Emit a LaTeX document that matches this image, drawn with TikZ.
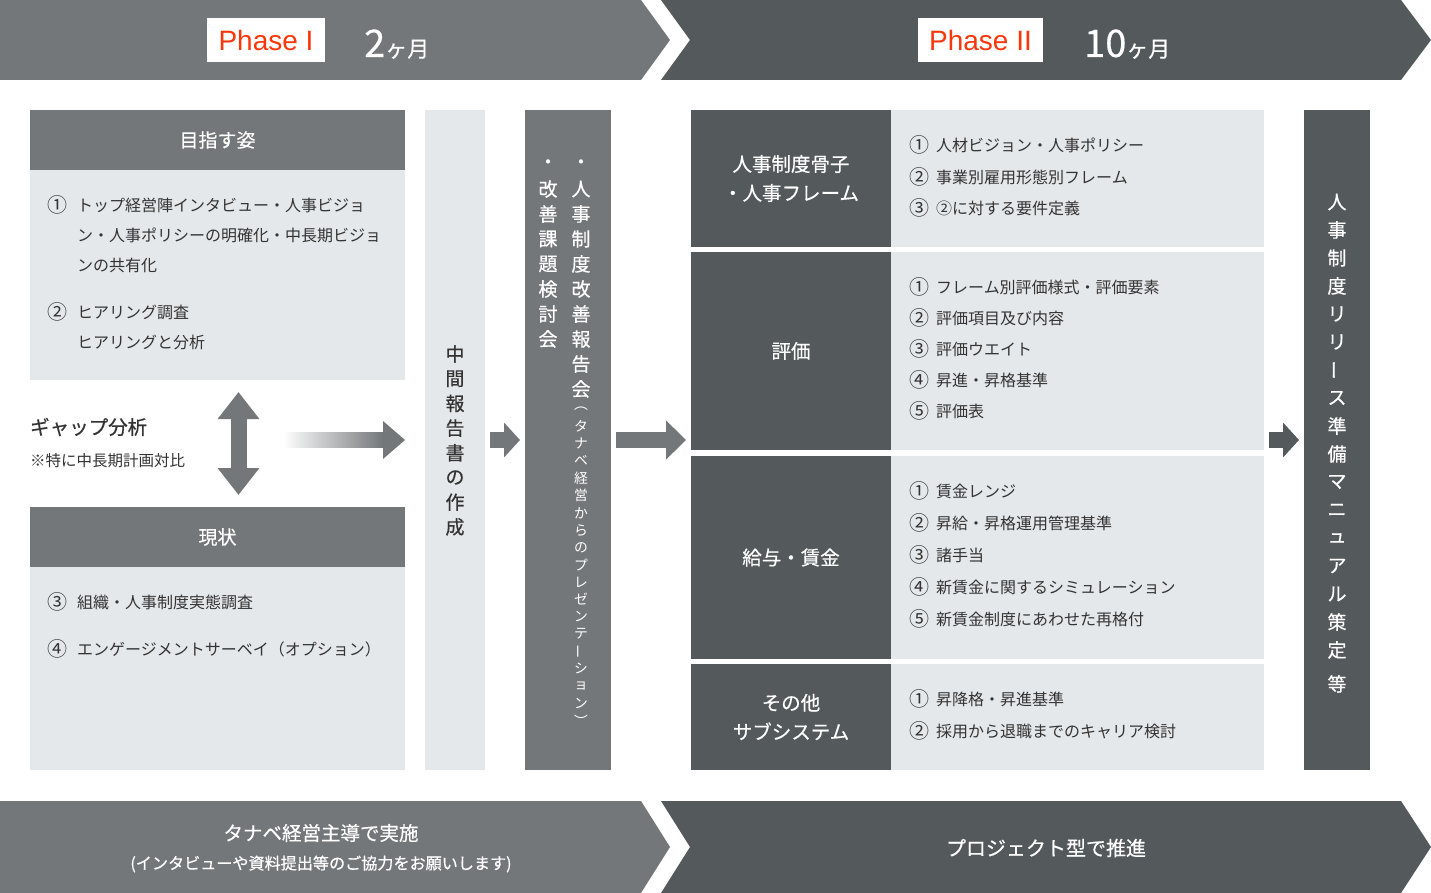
\documentclass[tikz,border=0pt]{standalone}
\usepackage{fontspec}
\setmainfont{Noto Sans CJK JP}
\newfontfamily\medfont[FakeBold=0.45]{Noto Sans CJK JP}
\newfontfamily\latinfont{Liberation Sans}
\usetikzlibrary{arrows.meta,calc}
\definecolor{midg}{RGB}{116,119,122}
\definecolor{darkg}{RGB}{84,89,92}
\definecolor{lightg}{RGB}{229,232,235}
\definecolor{txt}{RGB}{51,51,51}
\definecolor{phred}{RGB}{250,55,10}
\newcommand\myfs[2]{\fontsize{#1pt}{#2pt}\selectfont}
\tikzset{
  hdr/.style={fill=midg, text=white, inner sep=0pt, outer sep=0pt, anchor=north west, font=\medfont\myfs{19}{23}},
  body/.style={fill=lightg, inner sep=0pt, outer sep=0pt, anchor=north west},
  dk/.style={fill=darkg, text=white, inner sep=0pt, outer sep=0pt, anchor=north west, align=center, font=\medfont\myfs{19.5}{29}},
  lt/.style={fill=lightg, inner sep=0pt, outer sep=0pt, anchor=north west},
  num/.style={text=txt, font=\myfs{20}{20}, inner sep=0pt},
  item/.style={text=txt, font=\myfs{16}{16}, inner sep=0pt, anchor=west},
  vch/.style={inner sep=0pt, font=\medfont\myfs{19}{19}},
  vsm/.style={inner sep=0pt, font=\myfs{13.8}{14}, text=white},
  blk/.style={line width=16pt, -{Triangle[width=34pt,length=16pt]}},
  phasebox/.style={fill=white, inner sep=0pt, minimum height=44pt, font=\latinfont\myfs{28}{28}, text=phred},
  months/.style={inner sep=0pt, anchor=base west, text=white, font=\medfont},
  bantext/.style={inner sep=0pt, text=white}
}
\begin{document}
\begin{tikzpicture}[x=1pt,y=-1pt]
\useasboundingbox (0,0) rectangle (1431,893);
\fill[white] (0,0) rectangle (1431,893);

% ---- top banners
\fill[midg] (0,0) -- (641,0) -- (670,40) -- (641,80) -- (0,80) -- cycle;
\fill[darkg] (661,0) -- (1401,0) -- (1431,40) -- (1401,80) -- (661,80) -- (690,40) -- cycle;
\node[phasebox, minimum width=118pt] (p1) at (266,40) {Phase I};
\node[months] (m1) at (364,57) {\myfs{38}{38}2\myfs{22}{22}ヶ月};
\node[phasebox, minimum width=125pt] (p2) at (980.5,40) {Phase II};
\node[months] (m2) at (1084,57) {\myfs{38}{38}10\myfs{22}{22}ヶ月};

% ---- bottom banners
\fill[midg] (0,801) -- (641,801) -- (670,847) -- (641,893) -- (0,893) -- cycle;
\fill[darkg] (661,801) -- (1401,801) -- (1431,847) -- (1401,893) -- (661,893) -- (690,847) -- cycle;
\node[bantext, font=\medfont\myfs{19.5}{20}] (b1a) at (321,833) {タナベ経営主導で実施};
\node[bantext, font=\medfont\myfs{16.1}{17}] (b1b) at (321,864) {(インタビューや資料提出等のご協力をお願いします)};
\node[bantext, font=\medfont\myfs{20}{20}] (b2) at (1046,848) {プロジェクト型で推進};

% ---- left column
\node[hdr, minimum width=375pt, minimum height=60pt] (aimh) at (30,110) {目指す姿};
\node[body, minimum width=375pt, minimum height=210pt] (aimb) at (30,170) {};
\node[num] (n1) at (57,205) {①};
\node[item] (t1) at (77,205) {トップ経営陣インタビュー・人事ビジョ};
\node[item] (t1b) at (77,235) {ン・人事ポリシーの明確化・中長期ビジョ};
\node[item] (t1c) at (77,265) {ンの共有化};
\node[num] (n2) at (57,312) {②};
\node[item] (t2) at (77,312) {ヒアリング調査};
\node[item] (t2b) at (77,342) {ヒアリングと分析};

\node[inner sep=0pt, anchor=west, text=txt, font=\medfont\myfs{19.5}{20}] (gap) at (30,427) {ギャップ分析};
\node[inner sep=0pt, anchor=west, text=txt, font=\myfs{15.5}{16}] (gapn) at (30,461) {※特に中長期計画対比};

\node[hdr, minimum width=375pt, minimum height=60pt] (nowh) at (30,507) {現状};
\node[body, minimum width=375pt, minimum height=203pt] (nowb) at (30,567) {};
\node[num] (n3) at (57,602) {③};
\node[item] (t3) at (77,602) {組織・人事制度実態調査};
\node[num] (n4) at (57,649) {④};
\node[item] (t4) at (77,649) {エンゲージメントサーベイ（オプション）};

\draw[midg, line width=16pt, {Triangle[width=40pt,length=27pt]}-{Triangle[width=40pt,length=27pt]}]
  ([xshift=21pt,yshift=-12pt]aimb.south) -- ([xshift=21pt,yshift=12pt]nowh.north);

% ---- middle columns
\node[body, minimum width=60pt, minimum height=660pt] (midcol) at (425,110) {};
\foreach \ch [count=\i from 0] in {中,間,報,告,書,の,作,成}
  \node[vch, text=txt] (mc\i) at (455,354+24.7*\i) {\ch};

\node[body, fill=midg, minimum width=86pt, minimum height=660pt] (repcol) at (525,110) {};
\foreach \ch [count=\i from 0] in {・,人,事,制,度,改,善,報,告,会}
  \node[vch, text=white] (ra\i) at (581,164+25*\i) {\ch};
\foreach \ch [count=\i from 0] in {︵,タ,ナ,ベ,経,営,か,ら,の,プ,レ,ゼ,ン,テ,{\rotatebox{90}{ー}},シ,ョ,ン,︶}
  \node[vsm] (rs\i) at (581,409+17.3*\i) {\ch};
\foreach \ch [count=\i from 0] in {・,改,善,課,題,検,討,会}
  \node[vch, text=white] (rb\i) at (548,164+25*\i) {\ch};

% gradient arrow
\coordinate (gs) at (283,440);
\coordinate (ge) at (aimb.east |- midcol.west);
\shade[left color=white, right color=midg] ($(gs)+(0,-7.5)$) rectangle ($(ge)+(-22,7.5)$);
\fill[midg] ($(ge)+(-22,-19)$) -- (ge) -- ($(ge)+(-22,19)$) -- cycle;

% ---- right section
\node[dk, minimum width=200pt, minimum height=137pt] (d1) at (691,110) {人事制度骨子\\・人事フレーム};
\node[lt, minimum width=373pt, minimum height=137pt] (l1) at (891,110) {};
\node[dk, minimum width=200pt, minimum height=198pt] (d2) at (691,252) {評価};
\node[lt, minimum width=373pt, minimum height=198pt] (l2) at (891,252) {};
\node[dk, minimum width=200pt, minimum height=203pt] (d3) at (691,456) {給与・賃金};
\node[lt, minimum width=373pt, minimum height=203pt] (l3) at (891,456) {};
\node[dk, minimum width=200pt, minimum height=106pt] (d4) at (691,664) {その他\\サブシステム};
\node[lt, minimum width=373pt, minimum height=106pt] (l4) at (891,664) {};

\foreach \t/\y [count=\i] in {人材ビジョン・人事ポリシー/145, 事業別雇用形態別フレーム/177, ②に対する要件定義/208}{
  \node[num] (an\i) at (919,\y) {\ifcase\i\or ①\or ②\or ③\fi};
  \node[item] (at\i) at (936,\y) {\t};
}
\foreach \t/\y [count=\i] in {フレーム別評価様式・評価要素/287, 評価項目及び内容/318, 評価ウエイト/349, 昇進・昇格基準/380, 評価表/411}{
  \node[num] (bn\i) at (919,\y) {\ifcase\i\or ①\or ②\or ③\or ④\or ⑤\fi};
  \node[item] (bt\i) at (936,\y) {\t};
}
\foreach \t/\y [count=\i] in {賃金レンジ/491, 昇給・昇格運用管理基準/523, 諸手当/555, 新賃金に関するシミュレーション/587, 新賃金制度にあわせた再格付/619}{
  \node[num] (cn\i) at (919,\y) {\ifcase\i\or ①\or ②\or ③\or ④\or ⑤\fi};
  \node[item] (ct\i) at (936,\y) {\t};
}
\foreach \t/\y [count=\i] in {昇降格・昇進基準/699, 採用から退職までのキャリア検討/731}{
  \node[num] (dn\i) at (919,\y) {\ifcase\i\or ①\or ②\fi};
  \node[item] (dt\i) at (936,\y) {\t};
}

\node[body, fill=darkg, minimum width=66pt, minimum height=660pt] (rcol) at (1304,110) {};
\foreach \ch [count=\i from 0] in {人,事,制,度,リ,リ,{\rotatebox{90}{ー}},ス,準,備,マ,ニ,ュ,ア,ル,策,定}
  \node[vch, text=white] (rc\i) at (1337,202+28*\i) {\ch};
\node[vch, text=white] (rcx) at (1337,684) {等};

% ---- block arrows
\draw[midg, blk] ([xshift=5pt]midcol.east) -- ([xshift=-5pt]repcol.west);
\draw[midg, line width=16pt, -{Triangle[width=38pt,length=20pt]}] ([xshift=5pt]repcol.east) -- ([xshift=-5pt]d2.west |- repcol.east);
\draw[darkg, blk] ([xshift=5pt]l2.east |- rcol.west) -- ([xshift=-5pt]rcol.west);
\end{tikzpicture}
\end{document}
